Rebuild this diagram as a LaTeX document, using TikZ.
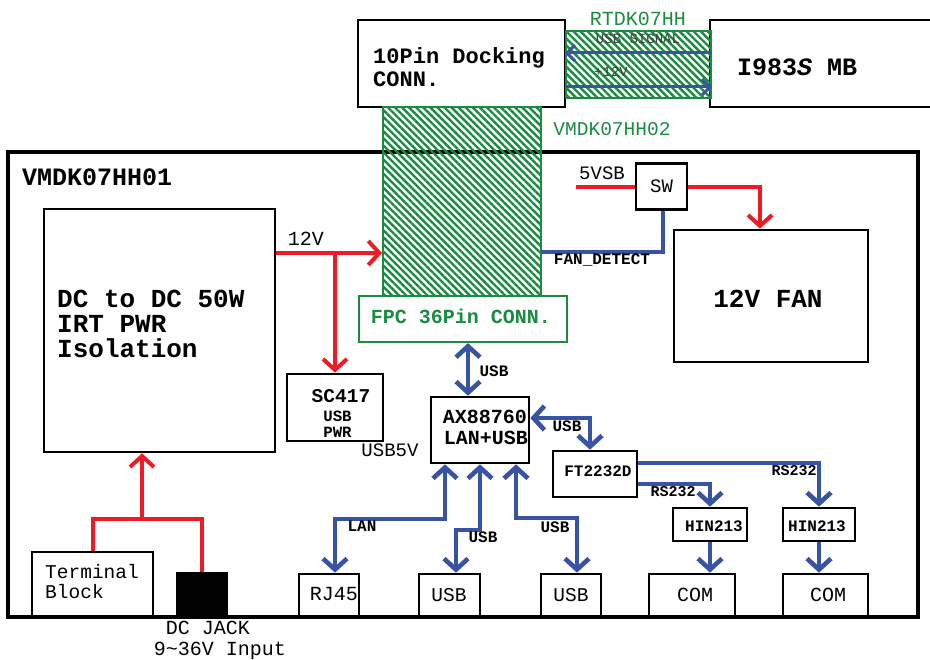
\documentclass[tikz,border=0pt]{standalone}
\usepackage{fontspec}
\setmainfont{Liberation Mono}
\usetikzlibrary{arrows.meta,patterns.meta}
\definecolor{cred}{RGB}{237,28,36}
\definecolor{cblue}{RGB}{57,83,164}
\definecolor{cgreen}{RGB}{26,140,64}
\newcommand\myfs[1]{\fontsize{#1}{#1}\selectfont}
\begin{document}
\begin{tikzpicture}[x=1pt,y=-1pt,
  bx/.style 2 args={draw,line width=2.6pt,minimum width=#1,minimum height=#2,inner sep=0pt},
  gbx/.style 2 args={draw=cgreen,fill=white,line width=2.2pt,minimum width=#1,minimum height=#2,inner sep=0pt},
  hatch/.style 2 args={draw=cgreen,line width=2pt,minimum width=#1,minimum height=#2,inner sep=0pt,
     pattern={Lines[angle=-45,distance=5pt,line width=2.4pt]},pattern color=cgreen},
  tc/.style={inner sep=0pt,font=\myfs{#1},anchor=base,yshift={-0.33*#1pt}},
  tw/.style={inner sep=0pt,font=\myfs{#1},anchor=base west,yshift={-0.33*#1pt}},
  rline/.style={draw=cred,line width=4pt},
  bline/.style={draw=cblue,line width=4.6pt},
  bthin/.style={draw=cblue,line width=3pt},
  tipa/.tip={Straight Barb[length=11pt,width=24pt]},
  tips/.tip={Straight Barb[length=8pt,width=16pt]}]
\useasboundingbox (0,0) rectangle (930,660);
% boxes
\node[bx={910}{465},line width=4.5pt] (main) at (463,384.5) {};
\node[bx={207}{87}] (dock) at (461.5,63.5) {};
\node[bx={230}{87}] (mb) at (825,63.5) {};
\node[hatch={145}{67}] (rt) at (638.5,64.5) {};
\node[hatch={158}{190}] (vm2) at (462,202) {};
\node[bx={231}{243}] (dc) at (159.5,330.5) {};
\node[gbx={208}{46}] (fpc) at (463,319) {};
\node[bx={51}{46}] (sw) at (661.5,186.5) {};
\node[bx={194}{132}] (fan) at (771,296) {};
\node[bx={96}{67}] (sc) at (335,407.5) {};
\node[bx={98}{66}] (ax) at (480,430) {};
\node[bx={84}{46}] (ft) at (595,474) {};
\node[bx={74}{33}] (hin1) at (710,524.5) {};
\node[bx={72}{33}] (hin2) at (819,524.5) {};
\node[bx={86}{43}] (com1) at (692,595.5) {};
\node[bx={85}{43}] (com2) at (825.5,595.5) {};
\node[bx={60}{43}] (usb3) at (571,595.5) {};
\node[bx={61}{43}] (usb2) at (449.5,595.5) {};
\node[bx={60}{43}] (rj) at (329,595.5) {};
\node[bx={121}{65}] (tb) at (92.5,584.5) {};
\node[bx={50}{44},fill=black] (jack) at (202,595) {};
% red connectors
\draw[rline,-tipa] (dc.east |- 0,253) -- (vm2.west |- 0,253);
\draw[rline,-tipa] (sc.north |- 0,253) -- (sc.north);
\coordinate (vsb) at (576,187);
\draw[rline] (vsb) -- (sw.west |- vsb);
\draw[rline,-tipa] (sw.east |- vsb) -| (fan.north -| 760,0);
\draw[rline] (tb.north) |- (jack.north |- 0,519) -- (jack.north);
\draw[rline,-tipa] (142,519) -- (dc.south -| 142,0);
% blue connectors
\draw[bline] (vm2.east |- 0,252) -| (sw.south -| 663,0);
\draw[bline,tipa-tipa] (fpc.south -| 468,0) -- (ax.north -| 468,0);
\draw[bline,tipa-tipa] (ax.east |- 0,418) -| (ft.north -| 590,0);
\draw[bline,-tipa] (ft.east |- 0,463) -| (hin2.north);
\draw[bline,-tipa] (ft.east |- 0,484) -| (hin1.north);
\draw[bline,-tipa] (hin1.south) -- (hin1.south |- com1.north);
\draw[bline,-tipa] (hin2.south) -- (hin2.south |- com2.north);
\draw[bline,tipa-tipa] (ax.south -| 445,0) |- (335,519) -- (rj.north -| 335,0);
\draw[bline,tipa-tipa] (ax.south -| 480,0) |- (456,530) -- (usb2.north -| 456,0);
\draw[bline,tipa-tipa] (ax.south -| 516,0) |- (577,518) -- (usb3.north -| 577,0);
\draw[bthin,-tips] (rt.east |- 0,53) -- (rt.west |- 0,53);
\draw[bthin,-tips] (rt.west |- 0,87) -- (rt.east |- 0,87);
% labels
\node[tw=25,font=\myfs{25}\bfseries] (l1) at (22,177) {VMDK07HH01};
\node[tw=26,font=\myfs{26}\bfseries] (l2) at (57,299) {DC to DC 50W};
\node[tw=26,font=\myfs{26}\bfseries] (l3) at (57,324) {IRT PWR};
\node[tw=26,font=\myfs{26}\bfseries] (l4) at (57,349) {Isolation};
\node[tc=20] (l5) at (306,239) {12V};
\node[tw=22,font=\myfs{22}\bfseries] (l6) at (373,56) {10Pin Docking};
\node[tw=22,font=\myfs{22}\bfseries] (l7) at (373,79) {CONN.};
\node[tw=25,font=\myfs{25}\bfseries] (l8) at (737,67) {I983\textit{S} MB};
\node[tc=20,text=cgreen] (l9) at (638,19) {RTDK07HH};
\node[tc=19.5,text=cgreen] (l10) at (612,129) {VMDK07HH02};
\node[tc=20,text=cgreen,font=\myfs{20}\bfseries] (l11) at (461,317) {FPC 36Pin CONN.};
\node[tc=14,text=black!75] (l12) at (638,39) {USB SIGNAL};
\node[tc=14,text=black!75] (l13) at (611,72) {+12V};
\node[tc=19] (l14) at (602,173) {5VSB};
\node[tc=19] (l15) at (sw) {SW};
\node[tc=16,font=\myfs{16}\bfseries] (l16) at (602,259) {FAN\_DETECT};
\node[tc=26,font=\myfs{26}\bfseries] (l17) at (768,299) {12V FAN};
\node[tc=19.5,font=\myfs{19.5}\bfseries] (l18) at (341,396) {SC417};
\node[tc=15.7,font=\myfs{15.7}\bfseries] (l19) at (337.5,416) {USB};
\node[tc=15.7,font=\myfs{15.7}\bfseries] (l20) at (337.5,432) {PWR};
\node[tc=19] (l21) at (390,450) {USB5V};
\node[tc=20,font=\myfs{20}\bfseries] (l22) at (485,417) {AX88760};
\node[tc=20,font=\myfs{20}\bfseries] (l23) at (486,438) {LAN+USB};
\node[tc=16,font=\myfs{16}\bfseries] (l24) at (494,371) {USB};
\node[tc=16,font=\myfs{16}\bfseries] (l25) at (567,426) {USB};
\node[tc=16,font=\myfs{16}\bfseries] (l26) at (598,471) {FT2232D};
\node[tc=15,font=\myfs{15}\bfseries] (l27) at (794,471) {RS232};
\node[tc=15,font=\myfs{15}\bfseries] (l28) at (673,492) {RS232};
\node[tc=16,font=\myfs{16}\bfseries] (l29) at (714,526) {HIN213};
\node[tc=16,font=\myfs{16}\bfseries] (l30) at (817,526) {HIN213};
\node[tc=20] (l31) at (695,595) {COM};
\node[tc=20] (l32) at (828,595) {COM};
\node[tc=19.5] (l33) at (571,595) {USB};
\node[tc=19.5] (l34) at (449,595) {USB};
\node[tc=20] (l35) at (334,594) {RJ45};
\node[tc=16,font=\myfs{16}\bfseries] (l36) at (555,527) {USB};
\node[tc=16,font=\myfs{16}\bfseries] (l37) at (483,537) {USB};
\node[tc=16,font=\myfs{16}\bfseries] (l38) at (362,526) {LAN};
\node[tw=19.5] (l39) at (45,572) {Terminal};
\node[tw=19.5] (l40) at (45,592) {Block};
\node[tc=20] (l41) at (208,628) {DC JACK};
\node[tc=20] (l42) at (220,649) {9\textasciitilde36V Input};
\end{tikzpicture}
\end{document}
